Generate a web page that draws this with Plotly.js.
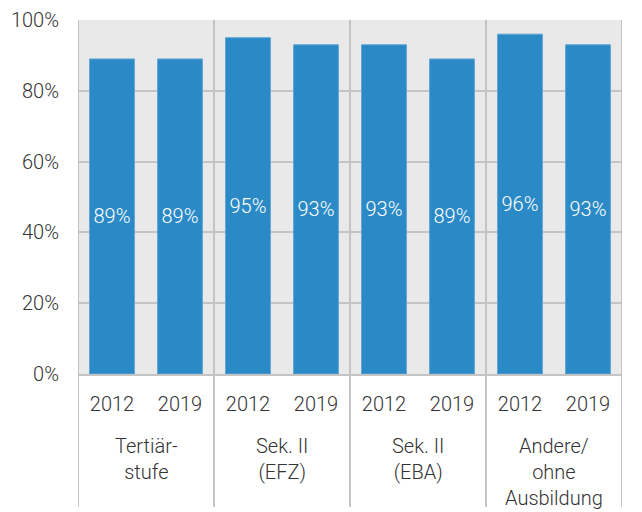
<!DOCTYPE html>
<html>
<head>
<meta charset="utf-8">
<script src="https://cdn.plot.ly/plotly-3.0.1.min.js"></script>
<style>html,body{margin:0;padding:0;background:#fff;}#chart{width:642px;height:512px;}</style>
</head>
<body>
<div id="chart"></div>
<script>
// Data
var groups = ["Tertiär-<br>stufe", "Sek. II<br>(EFZ)", "Sek. II<br>(EBA)", "Andere/<br>ohne<br>Ausbildung"];
var years = ["2012", "2019"];
var values = [89, 89, 95, 93, 93, 89, 96, 93];
var valueLabels = ["89%", "89%", "95%", "93%", "93%", "89%", "96%", "93%"];
var yTickVals = [0, 20, 40, 60, 80, 100];
var yTickText = ["0%", "20%", "40%", "60%", "80%", "100%"];

var ids = [], tickText = [];
groups.forEach(function (g, gi) {
  years.forEach(function (y) {
    ids.push("g" + gi + "_" + y);
    tickText.push(y);
  });
});

var FONT = "Roboto, 'Open Sans', sans-serif";
var GRID = "#c4c4c4";

var trace = {
  type: "bar",
  x: ids,
  y: values,
  width: 0.66,
  text: valueLabels,
  textposition: "inside",
  insidetextanchor: "middle",
  textangle: 0,
  textfont: {family: FONT, size: 20, color: "#ffffff", weight: 300},
  marker: {color: "#2b8ac6", line: {color: "#5ea6d6", width: 1}},
  hoverinfo: "none"
};

var shapes = [];
for (var i = 0; i <= groups.length; i++) {
  shapes.push({
    type: "line", xref: "x", yref: "paper",
    x0: i * 2 - 0.5, x1: i * 2 - 0.5, y0: 1, y1: -0.376,
    line: {color: GRID, width: 2}, layer: "above"
  });
}

var annotations = groups.map(function (g, gi) {
  return {
    xref: "x", yref: "paper", x: gi * 2 + 0.5, y: -0.163,
    xanchor: "center", yanchor: "top", showarrow: false,
    text: g, align: "center",
    font: {family: FONT, size: 20, color: "#333333", weight: 300}
  };
});

var layout = {
  width: 642, height: 512,
  margin: {l: 78, r: 20, t: 20, b: 138, pad: 0},
  paper_bgcolor: "#ffffff",
  plot_bgcolor: "#e9e9e9",
  showlegend: false,
  xaxis: {
    type: "category",
    tickvals: ids, ticktext: tickText,
    range: [-0.5, 7.5],
    showgrid: false, zeroline: false,
    showline: true, linecolor: GRID, linewidth: 2,
    ticks: "", ticklabelstandoff: 11,
    tickfont: {family: FONT, size: 20, color: "#333333", weight: 300},
    fixedrange: true
  },
  yaxis: {
    range: [0, 100],
    tickvals: yTickVals, ticktext: yTickText,
    showgrid: true, gridcolor: GRID, gridwidth: 2,
    zeroline: false,
    showline: false,
    ticks: "", ticklabelstandoff: 18,
    tickfont: {family: FONT, size: 20, color: "#333333", weight: 300},
    fixedrange: true
  },
  shapes: shapes,
  annotations: annotations
};

Plotly.newPlot("chart", [trace], layout, {displayModeBar: false, staticPlot: true});
</script>
</body>
</html>
